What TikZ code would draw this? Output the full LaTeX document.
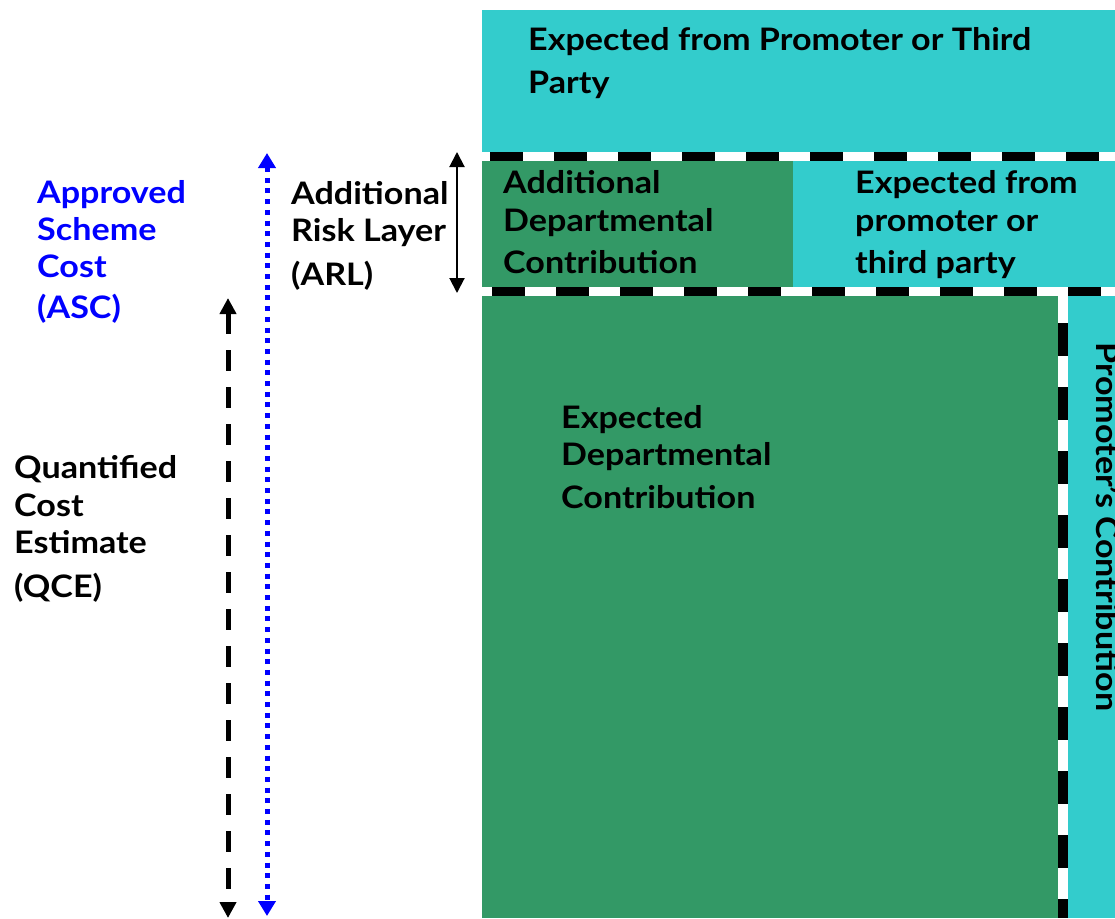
\documentclass[tikz,border=0pt]{standalone}
\usepackage{fontspec}
\setmainfont{Lato}[FakeStretch=1.1]
\usetikzlibrary{arrows.meta}
\definecolor{cyanbox}{RGB}{51,204,204}
\definecolor{greenbox}{RGB}{51,153,102}
\begin{document}
\begin{tikzpicture}[x=1pt,y=-1pt,
  lbl/.style={inner sep=0pt, anchor=base west, align=left,
    font=\fontsize{31}{37}\selectfont\bfseries},
  hband/.style={line width=9pt, dash pattern=on 33pt off 31pt},
  vband/.style={line width=10pt, dash pattern=on 33pt off 31pt},
  arl/.style={line width=2pt, {Triangle[length=15pt,width=15pt]}-{Triangle[length=15pt,width=15pt]}},
  asc/.style={blue, line width=5pt, dash pattern=on 5pt off 5.7pt,
    {Triangle[length=15pt,width=17pt]}-{Triangle[length=15pt,width=17pt]}},
  qce/.style={line width=5pt, dash pattern=on 21pt off 16pt,
    {Triangle[length=16pt,width=16pt]}-{Triangle[length=16pt,width=16pt]}},
]
\useasboundingbox (0,0) rectangle (1115,918);
\fill[white] (0,0) rectangle (1115,918);
% blocks
\fill[cyanbox] (482,10) rectangle (1115,152);
\fill[greenbox] (482,161) rectangle (793,287);
\fill[cyanbox] (793,161) rectangle (1115,287);
\fill[greenbox] (482,296) rectangle (1058,918);
\fill[cyanbox] (1068,296) rectangle (1115,918);
% dashed separators
\draw[hband, dash phase=56pt] (482,156.5) -- (1115,156.5);
\draw[hband, dash phase=54pt] (482,291.5) -- (1115,291.5);
\draw[vband, dash phase=37pt] (1063,296) -- (1063,918);
% texts in blocks (anchor = baseline of the last line)
\node[lbl] (top) at (528,93) {Expected from Promoter or Third\\[6pt]Party};
\node[lbl] (adc) at (503,273) {Additional\\[1pt]Departmental\\[5pt]Contribution};
\node[lbl] (efp) at (855,273) {Expected from\\[1pt]promoter or\\[5pt]third party};
\node[lbl] (edc) at (561,508) {Expected\\Departmental\\[6pt]Contribution};
\node[font=\fontsize{31}{37}\selectfont\bfseries, inner sep=0pt, anchor=base, rotate=-90]
  (pc) at (1096,527) {Promoter’s Contribution};
% left labels
\node[lbl, text=blue] (ascl) at (37,318) {Approved\\Scheme\\Cost\\[4pt](ASC)};
\node[lbl] (arll) at (291,285) {Additional\\Risk Layer\\[7pt](ARL)};
\node[lbl] (qcel) at (14,597) {Quantified\\[1pt]Cost\\Estimate\\[7pt](QCE)};
% dimension arrows
\coordinate (arlT) at (457,152);
\coordinate (arlB) at (457,293);
\coordinate (ascT) at (267,153);
\coordinate (ascB) at (267,916);
\coordinate (qceT) at (228,298);
\coordinate (qceB) at (228,918);
\draw[arl] (arlT) -- (arlB);
\draw[asc] (ascT) -- (ascB);
\draw[qce] (qceT) -- (qceB);
\end{tikzpicture}
\end{document}
